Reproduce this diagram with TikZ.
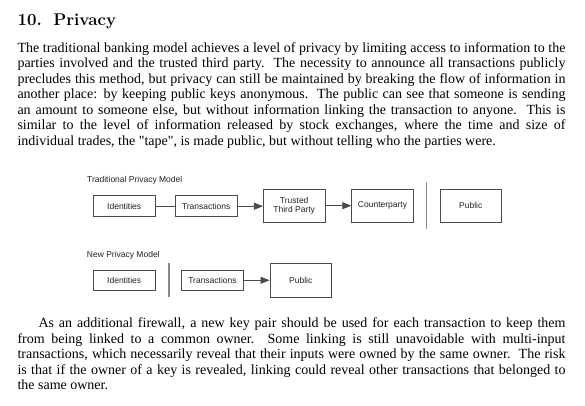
\documentclass[tikz,border=0pt]{standalone}
\usepackage{fontspec}
\newfontfamily\bodyfont{Liberation Serif}
\newfontfamily\diagfont{Liberation Sans}
\usetikzlibrary{arrows.meta}
\definecolor{boxgray}{HTML}{4A4A4A}
\definecolor{sepgray}{HTML}{8A8A8A}
\definecolor{diagtext}{HTML}{222222}
\newcommand\jline[5]{\node[jl] (#1) at (#2,#3) {\makebox[#4][s]{#5}};}
\newcommand\fline[4]{\node[jl] (#1) at (#2,#3) {#4};}
\begin{document}
\begin{tikzpicture}[x=1pt,y=-1pt,
  box/.style={draw=boxgray, line width=0.8pt, minimum width=61.7pt, inner sep=0pt,
    font=\diagfont\fontsize{8.5}{9.3}\selectfont, text=diagtext, align=center},
  arr/.style={draw=boxgray, line width=0.8pt, -{Triangle[length=9pt,width=7pt]}},
  lnk/.style={draw=boxgray, line width=0.8pt},
  sepline/.style={draw=sepgray, line width=1.2pt},
  lbl/.style={anchor=base west, inner sep=0pt, font=\diagfont\fontsize{8.5}{9.3}\selectfont, text=diagtext},
  jl/.style={anchor=base west, inner sep=0pt, font=\bodyfont\fontsize{14}{15.5}\selectfont}]
\useasboundingbox[fill=white] (0,0) rectangle (585,406);

% heading
\node[anchor=base west, inner sep=0pt, font=\bfseries\fontsize{16.9}{18}\selectfont] (head) at (17.3,25.7) {10.\hspace{11.5pt}Privacy};

% paragraph 1
\jline{pa}{17.3}{52.7}{548pt}{The traditional banking model achieves a level of privacy by limiting access to information to the}
\jline{pb}{17.3}{68.0}{548pt}{parties involved and the trusted third party.\ \ The necessity to announce all transactions publicly}
\jline{pc}{17.3}{83.5}{548pt}{precludes this method, but privacy can still be maintained by breaking the flow of information in}
\jline{pd}{17.3}{99.0}{548pt}{another place: by keeping public keys anonymous.\ \ The public can see that someone is sending}
\jline{pe}{17.3}{114.5}{548pt}{an amount to someone else, but without information linking the transaction to anyone.\ \ This is}
\jline{pf}{17.3}{130.0}{548pt}{similar to the level of information released by stock exchanges, where the time and size of}
\fline{pg}{17.3}{145.6}{individual trades, the "tape", is made public, but without telling who the parties were.}

% diagram 1
\node[lbl] (t1) at (87,182) {Traditional Privacy Model};
\node[box, minimum height=21pt] (id1) at (124.2,206.2) {Identities};
\node[box, minimum height=21pt] (tx1) at (206.2,206.2) {Transactions};
\node[box, minimum height=33.3pt] (ttp) at (294.2,205.7) {Trusted\\Third Party};
\node[box, minimum height=33.3pt] (cp) at (382.5,205.7) {Counterparty};
\node[box, minimum height=33.3pt] (pub1) at (470.8,205.7) {Public};
\coordinate (s1a) at (426.7,182.3);
\coordinate (s1b) at (426.7,229);
\draw[lnk] (id1) -- (tx1);
\draw[arr] (tx1) -- (tx1 -| ttp.west);
\draw[arr] (ttp) -- (cp);
\draw[sepline] (s1a) -- (s1b);

% diagram 2
\node[lbl] (t2) at (86.7,257) {New Privacy Model};
\node[box, minimum height=20.7pt] (id2) at (124.2,280.3) {Identities};
\node[box, minimum height=20.7pt] (tx2) at (212.5,280.3) {Transactions};
\node[box, minimum height=34pt] (pub2) at (300.8,280.3) {Public};
\coordinate (s2a) at (169,263.3);
\coordinate (s2b) at (169,297.3);
\draw[arr] (tx2) -- (pub2);
\draw[sepline] (s2a) -- (s2b);

% paragraph 2
\jline{qa}{38.3}{327.3}{527pt}{As an additional firewall, a new key pair should be used for each transaction to keep them}
\jline{qb}{17.3}{343.0}{548pt}{from being linked to a common owner.\ \ Some linking is still unavoidable with multi-input}
\jline{qc}{17.3}{358.6}{548pt}{transactions, which necessarily reveal that their inputs were owned by the same owner.\ \ The risk}
\jline{qd}{17.3}{374.2}{548pt}{is that if the owner of a key is revealed, linking could reveal other transactions that belonged to}
\fline{qe}{17.3}{389.8}{the same owner.}
\end{tikzpicture}
\end{document}
